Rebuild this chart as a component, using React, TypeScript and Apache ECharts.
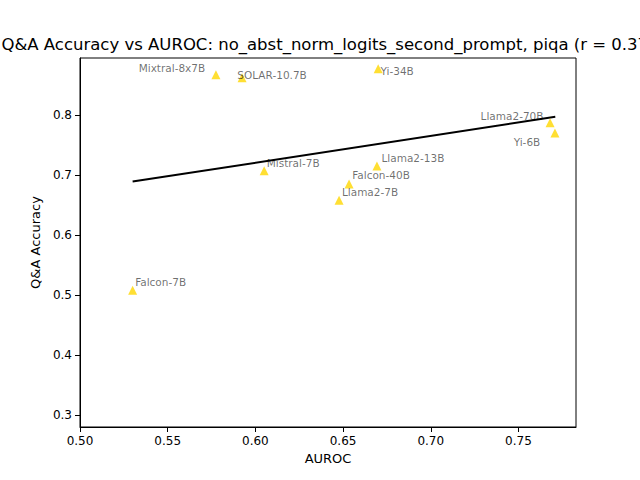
import React, { useEffect, useRef } from "react";
import * as echarts from "echarts";

const names = ["Mixtral-8x7B","SOLAR-10.7B","Yi-34B","Llama2-70B","Yi-6B","Mistral-7B","Llama2-13B","Falcon-40B","Llama2-7B","Falcon-7B"];
const auroc = [0.5775,0.5924,0.670,0.768,0.7708,0.605,0.6693,0.6534,0.6477,0.530];
const acc = [0.867,0.862,0.877,0.787,0.770,0.707,0.715,0.685,0.658,0.508];
const labelOffsets: [number, number][] = [[-44,-7],[30,-3],[19,2],[-38,-7],[-28,9],[29,-8],[36,-8],[32,-9],[31,-8],[28,-8]];
const trendX = [0.530, 0.771];
const trendY = [0.689, 0.797];
const xTicks = [0.5,0.55,0.6,0.65,0.7,0.75];
const yTicks = [0.3,0.4,0.5,0.6,0.7,0.8];

export default function App() {
  const ref = useRef<HTMLDivElement>(null);
  useEffect(() => {
    const chart = echarts.init(ref.current!, null, { renderer: "svg" });
    const font = "DejaVu Sans";
    chart.setOption({
      animation: false,
      textStyle: { fontFamily: font },
      graphic: [{ type: "text", x: 328, y: 36, style: { text: "Q&A Accuracy vs AUROC: no_abst_norm_logits_second_prompt, piqa (r = 0.37)", fontSize: 16.5, fontFamily: font, fill: "#000", textAlign: "center" } }],
      grid: { left: 80, right: 64, top: 58, bottom: 53, show: true, borderColor: "#000", borderWidth: 1 },
      xAxis: { type: "value", min: 0.5, max: 0.7828, name: "AUROC", nameLocation: "middle", nameGap: 25, nameTextStyle: { fontSize: 13, color: "#000" },
        axisLine: { lineStyle: { color: "#000" } }, axisTick: { show: true, customValues: xTicks, lineStyle: { color: "#000" } }, splitLine: { show: false },
        axisLabel: { color: "#000", fontSize: 12, customValues: xTicks, formatter: (v: number) => v.toFixed(2) } },
      yAxis: { type: "value", min: 0.28, max: 0.895, name: "Q&A Accuracy", nameLocation: "middle", nameGap: 38, nameTextStyle: { fontSize: 13, color: "#000" },
        axisLine: { lineStyle: { color: "#000" } }, axisTick: { show: true, customValues: yTicks, lineStyle: { color: "#000" } }, splitLine: { show: false },
        axisLabel: { color: "#000", fontSize: 12, customValues: yTicks, formatter: (v: number) => v.toFixed(1) } },
      series: [
        { type: "line", data: trendX.map((x, i) => [x, trendY[i]]), symbol: "none", lineStyle: { color: "#000", width: 2 }, z: 1 },
        { type: "scatter", symbol: "triangle", symbolSize: 9, itemStyle: { color: "#FFD700" }, z: 2,
          data: names.map((n, i) => ({ value: [auroc[i], acc[i]], name: n,
            label: { show: true, formatter: n, position: "inside", offset: labelOffsets[i], fontSize: 10.5, color: "rgba(0,0,0,0.72)", fontFamily: font } })) }
      ]
    });
    return () => chart.dispose();
  }, []);
  return <div ref={ref} style={{ position: "fixed", left: 0, top: 0, width: 640, height: 480, background: "#fff" }} />;
}
